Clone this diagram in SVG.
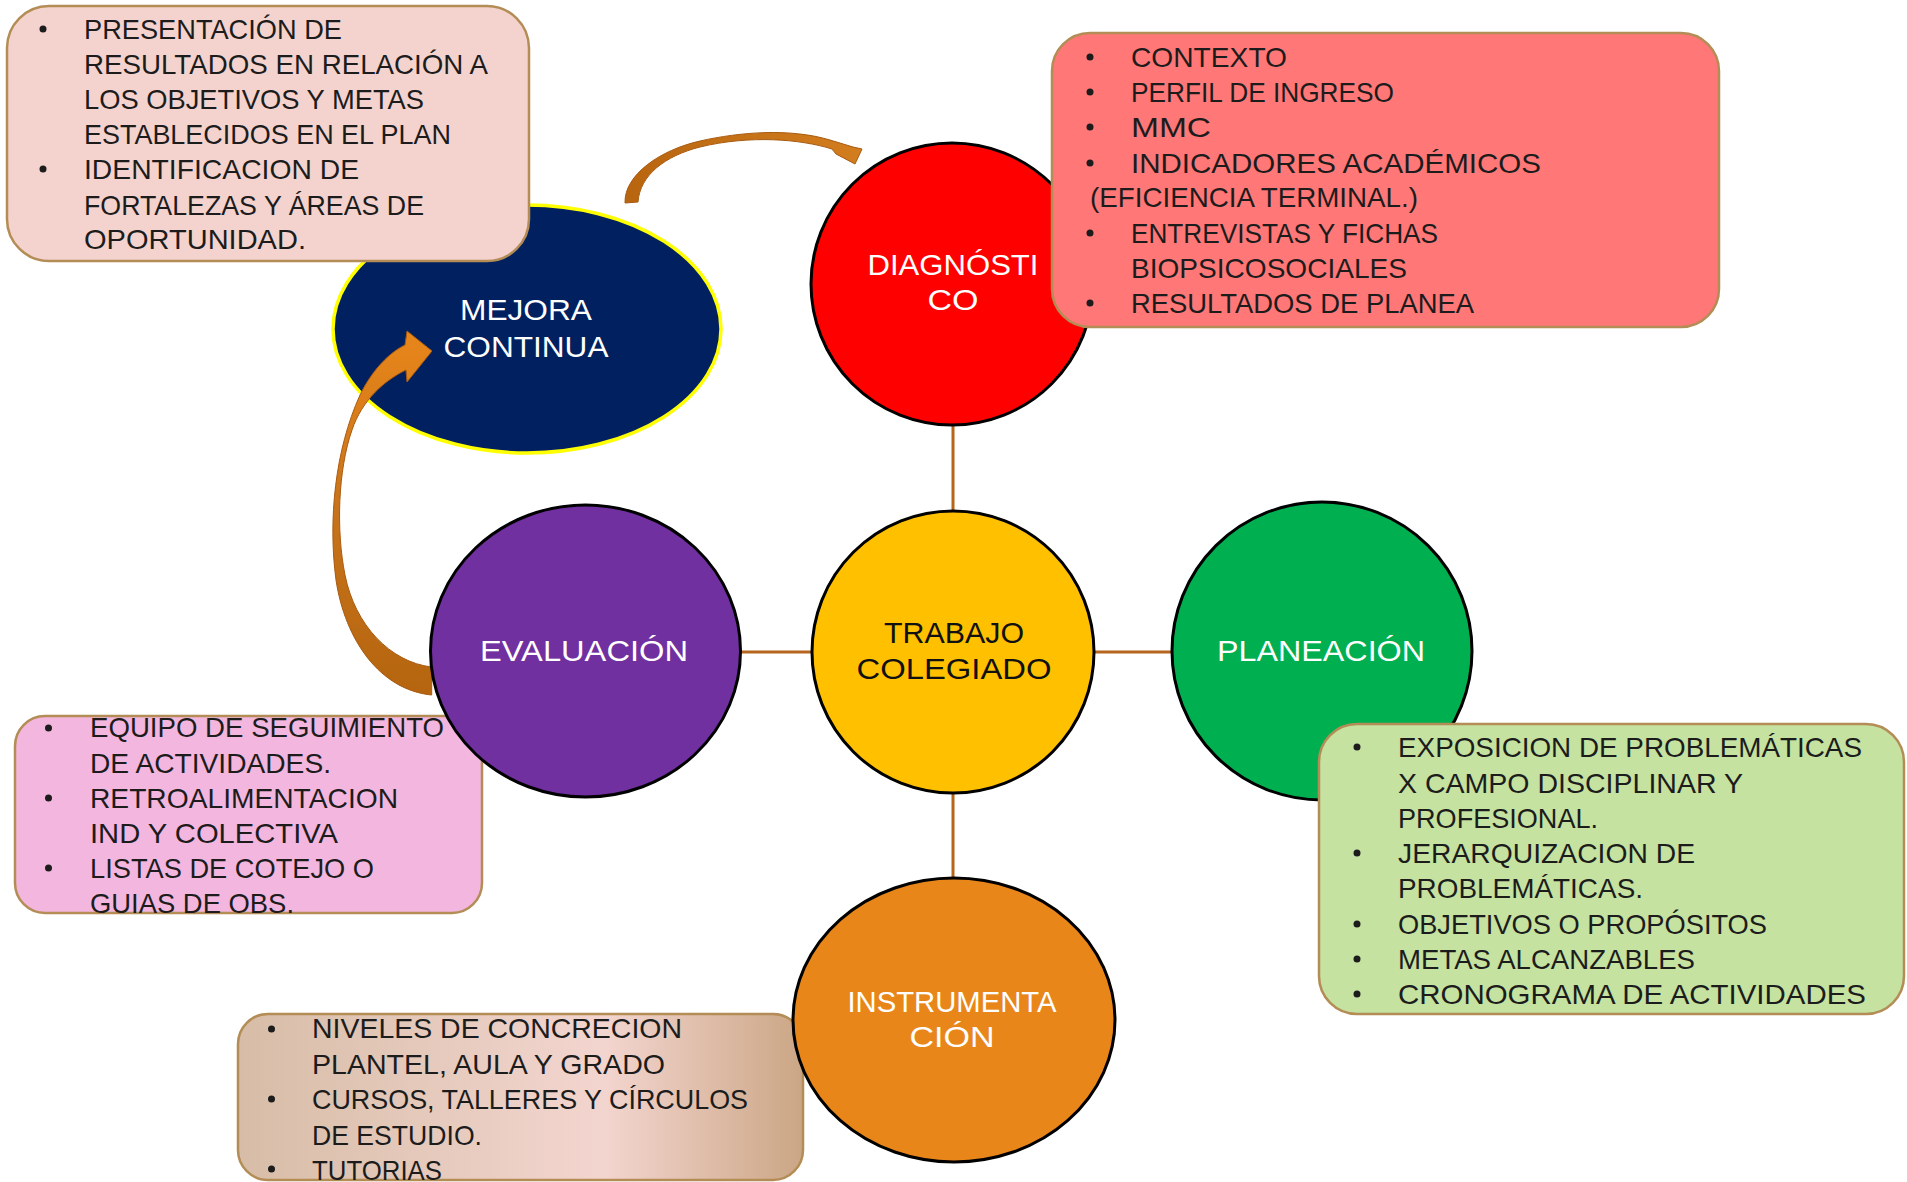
<svg xmlns="http://www.w3.org/2000/svg" width="1907" height="1182" viewBox="0 0 1907 1182">
<style>
.bx{stroke:#B38D55;stroke-width:2.5}
.t{font-family:"Liberation Sans",Arial,sans-serif;font-size:28px;fill:#1c1c1c}
.lbl{font-family:"Liberation Sans",Arial,sans-serif;font-size:30px;fill:#ffffff;text-anchor:middle}
.nd{stroke:#000;stroke-width:3}
.bl{fill:#1c1c1c}
.cn{stroke:#B5651D;stroke-width:3;fill:none}
</style>
<defs>
<linearGradient id="tanG" x1="0" y1="0" x2="1" y2="0">
<stop offset="0" stop-color="#D7BDA7"/>
<stop offset="0.65" stop-color="#F3D5CF"/>
<stop offset="1" stop-color="#CBA685"/>
</linearGradient>
<linearGradient id="arrL" x1="0" y1="0" x2="0" y2="1">
<stop offset="0" stop-color="#E8861A"/>
<stop offset="0.5" stop-color="#C7731A"/>
<stop offset="1" stop-color="#B5650F"/>
</linearGradient>
<linearGradient id="arrT" x1="0" y1="0" x2="1" y2="0">
<stop offset="0" stop-color="#B8650F"/>
<stop offset="1" stop-color="#D27D1E"/>
</linearGradient>
</defs>

<g id="connectors">
<line class="cn" x1="953" y1="424" x2="953" y2="512"/>
<line class="cn" x1="739" y1="652" x2="813" y2="652"/>
<line class="cn" x1="1094" y1="652" x2="1174" y2="652"/>
<line class="cn" x1="953" y1="792" x2="953" y2="880"/>
<path id="arrow-top" d="M 625 203 C 624 175, 660 150, 700 141 C 740 132, 790 128, 830 140 L 853 147 L 862 149 L 855 164 L 836 154 L 832 149 C 800 139, 750 135, 700 147 C 665 156, 640 175, 638 202 Z" fill="url(#arrT)" stroke="#A85A10" stroke-width="1"/>
</g>

<g id="node-mejora">
<ellipse cx="527" cy="329" rx="194" ry="124" fill="#002060" stroke="#FFFF00" stroke-width="3.5"/>
<text class="lbl" x="526" y="320" textLength="132" lengthAdjust="spacingAndGlyphs">MEJORA</text>
<text class="lbl" x="526" y="357" textLength="165" lengthAdjust="spacingAndGlyphs">CONTINUA</text>
</g>

<g id="box-mejora">
<rect class="bx" x="7" y="6" width="522" height="255" rx="42" fill="#F4D3CE"/>
<circle class="bl" cx="43" cy="29" r="3.5"/>
<circle class="bl" cx="43" cy="169" r="3.5"/>
<text class="t" x="84" y="39" textLength="258" lengthAdjust="spacingAndGlyphs">PRESENTACIÓN DE</text>
<text class="t" x="84" y="74" textLength="404" lengthAdjust="spacingAndGlyphs">RESULTADOS EN RELACIÓN A</text>
<text class="t" x="84" y="109" textLength="340" lengthAdjust="spacingAndGlyphs">LOS OBJETIVOS Y METAS</text>
<text class="t" x="84" y="144" textLength="367" lengthAdjust="spacingAndGlyphs">ESTABLECIDOS EN EL PLAN</text>
<text class="t" x="84" y="179" textLength="275" lengthAdjust="spacingAndGlyphs">IDENTIFICACION DE</text>
<text class="t" x="84" y="215" textLength="340" lengthAdjust="spacingAndGlyphs">FORTALEZAS Y ÁREAS DE</text>
<text class="t" x="84" y="249" textLength="222" lengthAdjust="spacingAndGlyphs">OPORTUNIDAD.</text>
</g>

<path id="arrow-left" d="M 431.7 695 C 380 690, 345 640, 336 580 C 328 520, 335 450, 360 395 C 372 370, 390 352, 405 345 L 407 331 L 432 351 L 407 382 L 406 370 C 385 380, 362 400, 352 430 C 338 470, 336 530, 345 575 C 355 625, 390 662, 431.7 667 Z" fill="url(#arrL)" stroke="#A85A10" stroke-width="1"/>

<g id="node-diagnostico">
<circle class="nd" cx="952" cy="284" r="141" fill="#FF0000"/>
<text class="lbl" x="953" y="275" textLength="171" lengthAdjust="spacingAndGlyphs">DIAGNÓSTI</text>
<text class="lbl" x="953" y="310" textLength="51" lengthAdjust="spacingAndGlyphs">CO</text>
</g>

<g id="box-diagnostico">
<rect class="bx" x="1052" y="33" width="667" height="294" rx="38" fill="#FF7777"/>
<circle class="bl" cx="1090" cy="57" r="3.5"/>
<circle class="bl" cx="1090" cy="92" r="3.5"/>
<circle class="bl" cx="1090" cy="127" r="3.5"/>
<circle class="bl" cx="1090" cy="163" r="3.5"/>
<circle class="bl" cx="1090" cy="233" r="3.5"/>
<circle class="bl" cx="1090" cy="303" r="3.5"/>
<text class="t" x="1131" y="67" textLength="156" lengthAdjust="spacingAndGlyphs">CONTEXTO</text>
<text class="t" x="1131" y="102" textLength="263" lengthAdjust="spacingAndGlyphs">PERFIL DE INGRESO</text>
<text class="t" x="1131" y="137" textLength="80" lengthAdjust="spacingAndGlyphs">MMC</text>
<text class="t" x="1131" y="173" textLength="410" lengthAdjust="spacingAndGlyphs">INDICADORES ACADÉMICOS</text>
<text class="t" x="1090" y="207" textLength="328" lengthAdjust="spacingAndGlyphs">(EFICIENCIA TERMINAL.)</text>
<text class="t" x="1131" y="243" textLength="307" lengthAdjust="spacingAndGlyphs">ENTREVISTAS Y FICHAS</text>
<text class="t" x="1131" y="278" textLength="276" lengthAdjust="spacingAndGlyphs">BIOPSICOSOCIALES</text>
<text class="t" x="1131" y="313" textLength="343" lengthAdjust="spacingAndGlyphs">RESULTADOS DE PLANEA</text>
</g>

<g id="node-trabajo">
<circle class="nd" cx="953" cy="652" r="141" fill="#FFC000"/>
<text class="lbl" x="954" y="643" style="fill:#111" textLength="140" lengthAdjust="spacingAndGlyphs">TRABAJO</text>
<text class="lbl" x="954" y="679" style="fill:#111" textLength="195" lengthAdjust="spacingAndGlyphs">COLEGIADO</text>
</g>

<g id="node-planeacion">
<ellipse class="nd" cx="1322" cy="651" rx="150" ry="149" fill="#00B050"/>
<text class="lbl" x="1321" y="661" textLength="208" lengthAdjust="spacingAndGlyphs">PLANEACIÓN</text>
</g>

<g id="box-planeacion">
<rect class="bx" x="1319" y="724" width="585" height="290" rx="38" fill="#C5E2A0"/>
<circle class="bl" cx="1357" cy="747" r="3.5"/>
<circle class="bl" cx="1357" cy="853" r="3.5"/>
<circle class="bl" cx="1357" cy="924" r="3.5"/>
<circle class="bl" cx="1357" cy="959" r="3.5"/>
<circle class="bl" cx="1357" cy="994" r="3.5"/>
<text class="t" x="1398" y="757" textLength="464" lengthAdjust="spacingAndGlyphs">EXPOSICION DE PROBLEMÁTICAS</text>
<text class="t" x="1398" y="793" textLength="345" lengthAdjust="spacingAndGlyphs">X CAMPO DISCIPLINAR Y</text>
<text class="t" x="1398" y="828" textLength="200" lengthAdjust="spacingAndGlyphs">PROFESIONAL.</text>
<text class="t" x="1398" y="863" textLength="297" lengthAdjust="spacingAndGlyphs">JERARQUIZACION DE</text>
<text class="t" x="1398" y="898" textLength="245" lengthAdjust="spacingAndGlyphs">PROBLEMÁTICAS.</text>
<text class="t" x="1398" y="934" textLength="369" lengthAdjust="spacingAndGlyphs">OBJETIVOS O PROPÓSITOS</text>
<text class="t" x="1398" y="969" textLength="297" lengthAdjust="spacingAndGlyphs">METAS ALCANZABLES</text>
<text class="t" x="1398" y="1004" textLength="468" lengthAdjust="spacingAndGlyphs">CRONOGRAMA DE ACTIVIDADES</text>
</g>

<g id="box-evaluacion">
<rect class="bx" x="15" y="716" width="467" height="197" rx="30" fill="#F3B6DE"/>
<circle class="bl" cx="48.5" cy="728" r="3.5"/>
<circle class="bl" cx="48.5" cy="798" r="3.5"/>
<circle class="bl" cx="48.5" cy="868" r="3.5"/>
<text class="t" x="90" y="737" textLength="354" lengthAdjust="spacingAndGlyphs">EQUIPO DE SEGUIMIENTO</text>
<text class="t" x="90" y="773" textLength="241" lengthAdjust="spacingAndGlyphs">DE ACTIVIDADES.</text>
<text class="t" x="90" y="808" textLength="308" lengthAdjust="spacingAndGlyphs">RETROALIMENTACION</text>
<text class="t" x="90" y="843" textLength="248" lengthAdjust="spacingAndGlyphs">IND Y COLECTIVA</text>
<text class="t" x="90" y="878" textLength="284" lengthAdjust="spacingAndGlyphs">LISTAS DE COTEJO O</text>
<text class="t" x="90" y="913" textLength="204" lengthAdjust="spacingAndGlyphs">GUIAS DE OBS.</text>
</g>

<g id="node-evaluacion">
<ellipse class="nd" cx="585.5" cy="651" rx="155" ry="146" fill="#7030A0"/>
<text class="lbl" x="584" y="661" textLength="208" lengthAdjust="spacingAndGlyphs">EVALUACIÓN</text>
</g>

<g id="box-instrumentacion">
<rect class="bx" x="238" y="1014" width="565" height="166" rx="30" fill="url(#tanG)"/>
<circle class="bl" cx="271.5" cy="1029" r="3.5"/>
<circle class="bl" cx="271.5" cy="1099" r="3.5"/>
<circle class="bl" cx="271.5" cy="1169" r="3.5"/>
<text class="t" x="312" y="1038" textLength="370" lengthAdjust="spacingAndGlyphs">NIVELES DE CONCRECION</text>
<text class="t" x="312" y="1074" textLength="353" lengthAdjust="spacingAndGlyphs">PLANTEL, AULA Y GRADO</text>
<text class="t" x="312" y="1109" textLength="436" lengthAdjust="spacingAndGlyphs">CURSOS, TALLERES Y CÍRCULOS</text>
<text class="t" x="312" y="1145" textLength="170" lengthAdjust="spacingAndGlyphs">DE ESTUDIO.</text>
<text class="t" x="312" y="1180" textLength="130" lengthAdjust="spacingAndGlyphs">TUTORIAS</text>
</g>

<g id="node-instrumentacion">
<ellipse class="nd" cx="954" cy="1020" rx="161" ry="142" fill="#E8861A"/>
<text class="lbl" x="952" y="1012" textLength="209" lengthAdjust="spacingAndGlyphs">INSTRUMENTA</text>
<text class="lbl" x="952" y="1047" textLength="85" lengthAdjust="spacingAndGlyphs">CIÓN</text>
</g>
</svg>
